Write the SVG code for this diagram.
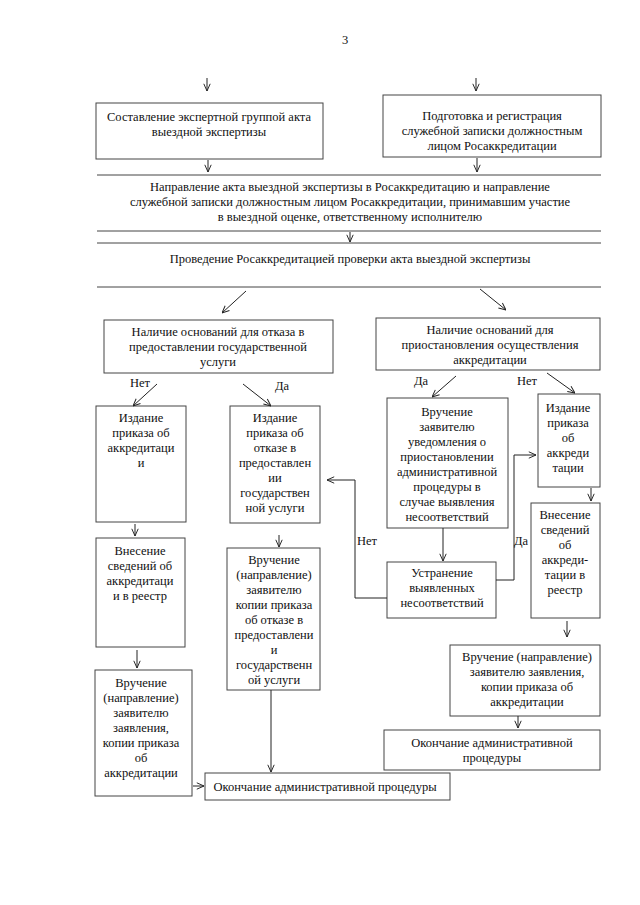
<svg xmlns="http://www.w3.org/2000/svg" width="640" height="905" viewBox="0 0 640 905">
<style>
text{font-family:"Liberation Serif","Times New Roman",serif;font-size:12.5px;fill:#111;text-anchor:middle}
.b{fill:none;stroke:#444;stroke-width:1}
.c{fill:none;stroke:#222;stroke-width:1}
.l{text-anchor:start}
</style>
<defs>
<marker id="a" viewBox="0 0 10 10" refX="10" refY="5" markerWidth="8" markerHeight="8" orient="auto" markerUnits="userSpaceOnUse">
<path d="M1,1 L10,5 L1,9" fill="none" stroke="#222" stroke-width="1.2"/>
</marker>
</defs>
<rect width="640" height="905" fill="#fff"/>
<text x="345" y="44">3</text>

<g id="n1"><rect class="b" x="96" y="103" width="227" height="56"/>
<text x="209" y="121">Составление экспертной группой акта</text>
<text x="209" y="136">выездной экспертизы</text></g>

<g id="n2"><rect class="b" x="383" y="95" width="218" height="62"/>
<text x="492" y="120">Подготовка и регистрация</text>
<text x="492" y="135">служебной записки должностным</text>
<text x="492" y="150">лицом Росаккредитации</text></g>

<g id="n3"><line class="b" x1="97" y1="175" x2="601" y2="175"/><line class="b" x1="97" y1="231" x2="601" y2="231"/>
<text x="350" y="191">Направление акта выездной экспертизы в Росаккредитацию и направление</text>
<text x="350" y="206">служебной записки должностным лицом Росаккредитации, принимавшим участие</text>
<text x="350" y="221">в выездной оценке, ответственному исполнителю</text></g>

<g id="n4"><line class="b" x1="97" y1="243" x2="601" y2="243"/><line class="b" x1="97" y1="287" x2="601" y2="287"/>
<text x="350" y="263">Проведение Росаккредитацией проверки акта выездной экспертизы</text></g>

<g id="n5"><rect class="b" x="104" y="320" width="229" height="53"/>
<text x="218" y="336">Наличие оснований для отказа в</text>
<text x="218" y="351">предоставлении государственной</text>
<text x="218" y="366">услуги</text></g>

<g id="n6"><rect class="b" x="376" y="318" width="224" height="52"/>
<text x="490" y="334">Наличие оснований для</text>
<text x="490" y="349">приостановления осуществления</text>
<text x="490" y="364">аккредитации</text></g>

<g id="n7"><rect class="b" x="96" y="406" width="90" height="116"/>
<text x="141" y="422">Издание</text>
<text x="141" y="437">приказа об</text>
<text x="141" y="452">аккредитаци</text>
<text x="141" y="467">и</text></g>

<g id="n8"><rect class="b" x="230" y="406" width="90" height="117"/>
<text x="275" y="422">Издание</text>
<text x="275" y="437">приказа об</text>
<text x="275" y="452">отказе в</text>
<text x="275" y="467">предоставлен</text>
<text x="275" y="482">ии</text>
<text x="275" y="497">государствен</text>
<text x="275" y="512">ной услуги</text></g>

<g id="n9"><rect class="b" x="387" y="398" width="121" height="130"/>
<text x="447" y="416">Вручение</text>
<text x="447" y="431">заявителю</text>
<text x="447" y="446">уведомления о</text>
<text x="447" y="461">приостановлении</text>
<text x="447" y="476">административной</text>
<text x="447" y="491">процедуры в</text>
<text x="447" y="506">случае выявления</text>
<text x="447" y="521">несоответствий</text></g>

<g id="n10"><rect class="b" x="538" y="394" width="62" height="93"/>
<text x="568" y="412">Издание</text>
<text x="568" y="427">приказа</text>
<text x="568" y="442">об</text>
<text x="568" y="457">аккреди</text>
<text x="568" y="472">тации</text></g>

<g id="n11"><rect class="b" x="96" y="538" width="89" height="109"/>
<text x="140" y="555">Внесение</text>
<text x="140" y="570">сведений об</text>
<text x="140" y="585">аккредитаци</text>
<text x="140" y="600">и в реестр</text></g>

<g id="n12"><rect class="b" x="227" y="548" width="93" height="142"/>
<text x="274" y="564">Вручение</text>
<text x="274" y="579">(направление)</text>
<text x="274" y="594">заявителю</text>
<text x="274" y="609">копии приказа</text>
<text x="274" y="624">об отказе в</text>
<text x="274" y="639">предоставлени</text>
<text x="274" y="654">и</text>
<text x="274" y="669">государственн</text>
<text x="274" y="684">ой услуги</text></g>

<g id="n13"><rect class="b" x="387" y="562" width="109" height="56"/>
<text x="442" y="577">Устранение</text>
<text x="442" y="592">выявленных</text>
<text x="442" y="607">несоответствий</text></g>

<g id="n14"><rect class="b" x="531" y="503" width="69" height="115"/>
<text x="565" y="519">Внесение</text>
<text x="565" y="534">сведений</text>
<text x="565" y="549">об</text>
<text x="565" y="564">аккреди-</text>
<text x="565" y="579">тации в</text>
<text x="565" y="594">реестр</text></g>

<g id="n15"><rect class="b" x="450" y="645" width="150" height="71"/>
<text x="527" y="661">Вручение (направление)</text>
<text x="527" y="676">заявителю заявления,</text>
<text x="527" y="691">копии приказа об</text>
<text x="527" y="706">аккредитации</text></g>

<g id="n16"><rect class="b" x="95" y="670" width="97" height="126"/>
<text x="141" y="687">Вручение</text>
<text x="141" y="702">(направление)</text>
<text x="141" y="717">заявителю</text>
<text x="141" y="732">заявления,</text>
<text x="141" y="747">копии приказа</text>
<text x="141" y="762">об</text>
<text x="141" y="777">аккредитации</text></g>

<g id="n17"><rect class="b" x="384" y="730" width="216" height="40"/>
<text x="492" y="747">Окончание административной</text>
<text x="492" y="762">процедуры</text></g>

<g id="n18"><rect class="b" x="205" y="773" width="245" height="27"/>
<text x="325" y="791">Окончание административной процедуры</text></g>

<g id="edges">
<line class="c" x1="207" y1="78" x2="207" y2="91" marker-end="url(#a)"/>
<line class="c" x1="476" y1="78" x2="476" y2="91" marker-end="url(#a)"/>
<line class="c" x1="208" y1="160" x2="208" y2="172" marker-end="url(#a)"/>
<line class="c" x1="477" y1="158" x2="477" y2="172" marker-end="url(#a)"/>
<line class="c" x1="350" y1="232" x2="350" y2="242" marker-end="url(#a)"/>
<line class="c" x1="246" y1="291" x2="222" y2="313" marker-end="url(#a)"/>
<line class="c" x1="480" y1="289" x2="506" y2="310" marker-end="url(#a)"/>
<line class="c" x1="157" y1="384" x2="133" y2="406" marker-end="url(#a)"/>
<line class="c" x1="243" y1="384" x2="271" y2="406" marker-end="url(#a)"/>
<line class="c" x1="456" y1="376" x2="432" y2="397" marker-end="url(#a)"/>
<line class="c" x1="547" y1="373" x2="575" y2="393" marker-end="url(#a)"/>
<line class="c" x1="135" y1="524" x2="135" y2="536" marker-end="url(#a)"/>
<line class="c" x1="279" y1="535" x2="279" y2="547" marker-end="url(#a)"/>
<line class="c" x1="443" y1="528" x2="443" y2="561" marker-end="url(#a)"/>
<line class="c" x1="591" y1="488" x2="591" y2="501" marker-end="url(#a)"/>
<line class="c" x1="137" y1="650" x2="137" y2="668" marker-end="url(#a)"/>
<line class="c" x1="567" y1="621" x2="567" y2="637" marker-end="url(#a)"/>
<line class="c" x1="518" y1="716" x2="518" y2="728" marker-end="url(#a)"/>
<line class="c" x1="271" y1="690" x2="271" y2="772" marker-end="url(#a)"/>
<line class="c" x1="193" y1="786" x2="204" y2="786" marker-end="url(#a)"/>
<polyline class="c" points="387,598 355,598 355,480 327,480" marker-end="url(#a)"/>
<polyline class="c" points="496,580 514,580 514,455 536,455" marker-end="url(#a)"/>
<text x="140" y="387">Нет</text>
<text x="282" y="390">Да</text>
<text x="421" y="385">Да</text>
<text x="527" y="385">Нет</text>
<text x="367" y="545">Нет</text>
<text x="521" y="545">Да</text>
</g>
</svg>
